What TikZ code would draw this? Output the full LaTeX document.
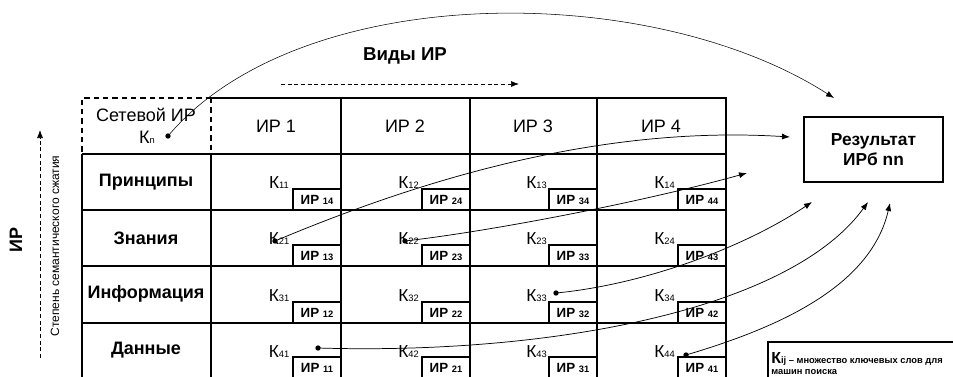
\documentclass[tikz,border=0pt]{standalone}
\usepackage{fontspec}
\setmainfont{Liberation Sans}
\usetikzlibrary{arrows.meta}
\tikzset{
  grid/.style={line width=0.8pt},
  cornerdash/.style={line width=0.8pt, dash pattern=on 4pt off 3pt},
  hdr/.style={font=\fontsize{13.5}{15}\selectfont, align=center},
  rowlab/.style={font=\fontsize{13.5}{15}\selectfont\bfseries},
  klab/.style={font=\fontsize{13}{14}\selectfont, inner sep=0pt},
  irbox/.style={draw, fill=white, line width=0.8pt, minimum width=36pt, minimum height=15.75pt, inner sep=0pt, font=\fontsize{10}{11}\selectfont\bfseries},
  dot/.style={circle, fill=black, inner sep=0pt, minimum size=4pt},
  conn/.style={line width=0.55pt, -{Latex[length=6pt,width=4.5pt]}},
  thinconn/.style={line width=0.4pt, -{Latex[length=6pt,width=4.5pt]}},
  dasharr/.style={line width=0.5pt, densely dashed, -{Latex[length=6pt,width=4.5pt]}},
  resbox/.style={draw, line width=0.8pt, minimum width=104.25pt, minimum height=48.75pt, align=center, font=\fontsize{13}{15.5}\selectfont\bfseries},
}
\newcommand{\sm}[1]{{\fontsize{7}{8}\selectfont #1}}
\begin{document}
\begin{tikzpicture}[x=0.75pt,y=-0.75pt]
\useasboundingbox (0,0) rectangle (953,376);
% corner dashed cell
\draw[cornerdash] (211,98) -- (82,98) -- (82,154);
\draw[cornerdash] (211,98) -- (211,154);
% header row
\draw[grid] (211,98) -- (726,98) -- (726,378);
\foreach \x in {341,470,597} \draw[grid] (\x,98) -- (\x,378);
\draw[grid] (82,154) -- (82,378);
\draw[grid] (211,154) -- (211,378);
\foreach \y in {154,210,266,323,378} \draw[grid] (82,\y) -- (726,\y);
% header labels
\node[hdr] (net) at (146,115) {Сетевой ИР};
\node[hdr, inner sep=0pt] (kn) at (147,137) {К\sm{n}};
\node[dot] (dn) at (168,136) {};
\node[hdr] (h1) at (276,126) {ИР 1};
\node[hdr] (h2) at (405,126) {ИР 2};
\node[hdr] (h3) at (533,126) {ИР 3};
\node[hdr] (h4) at (661,126) {ИР 4};
% row labels
\node[rowlab] (r1) at (146,182) {Принципы};
\node[rowlab] (r2) at (146,238) {Знания};
\node[rowlab] (r3) at (146,294) {Информация};
\node[rowlab] (r4) at (146,350) {Данные};
% cells
\foreach \c/\xl/\xr in {1/211/341,2/341/470,3/470/597,4/597/726}{
  \foreach \r/\yt/\yb in {1/154/210,2/210/266,3/266/323,4/323/378}{
    \pgfmathtruncatemacro{\nn}{5-\r}
    \node[irbox] (b\r\c) at ({\xr-24},{\yb-10.5}) {ИР \sm{\c\nn}};
    \node[klab] (k\r\c) at ({(\xl+\xr)/2+3},{(\yt+\yb)/2+1}) {К\sm{\r\c}};
  }
}
% titles and axes
\node[font=\fontsize{14}{16}\selectfont\bfseries] (vid) at (405,56) {Виды ИР};
\coordinate (ha) at (281,84);
\coordinate (hb) at (519,84);
\draw[dasharr] (ha) -- (hb);
\node[font=\fontsize{13.5}{15}\selectfont\bfseries, rotate=90] (irl) at (16,240) {ИР};
\node[font=\fontsize{9}{10}\selectfont, rotate=90] (deg) at (55,246) {Степень семантического сжатия};
\coordinate (va) at (40,358);
\coordinate (vb) at (40,130);
\draw[dasharr] (va) -- (vb);
% result
\node[resbox] (res) at (873.5,149.5) {Результат\\ИРб nn};
% legend
\draw[line width=0.8pt] (768,380) -- (768,342) -- (960,342);
\node[anchor=base west, inner sep=0pt] (leg1) at (771,363) {{\fontsize{12}{13}\selectfont\bfseries К}{\fontsize{7}{8}\selectfont\bfseries ij – множество ключевых слов для}};
\node[anchor=base west, inner sep=0pt] (leg2) at (771,374) {\fontsize{7}{8}\selectfont\bfseries машин поиска};
% dots
\node[dot] (d21) at (275,241) {};
\node[dot] (d22) at (405,241) {};
\node[dot] (d33) at (556,293) {};
\node[dot] (d41) at (318,348) {};
\node[dot] (d44) at (686,355) {};
% arrow targets
\coordinate (t1) at (834,98);
\coordinate (t2) at (790,137);
\coordinate (t3) at (747,173);
\coordinate (t4) at (812,202);
\coordinate (t5) at (868,202);
\coordinate (t6) at (890,203);
% connectors
\draw[thinconn] (dn.center) .. controls (300,-20) and (650,-20) .. (t1);
\draw[conn] (d21.center) .. controls (420,180) and (600,125) .. (t2);
\draw[conn] (d22.center) .. controls (500,230) and (650,200) .. (t3);
\draw[conn] (d33.center) .. controls (640,285) and (740,250) .. (t4);
\draw[conn] (d41.center) .. controls (550,355) and (790,310) .. (t5);
\draw[conn] (d44.center) .. controls (770,330) and (870,290) .. (t6);
\end{tikzpicture}
\end{document}
